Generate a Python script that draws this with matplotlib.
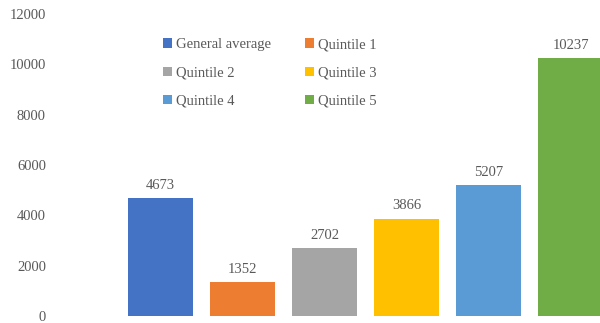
import matplotlib.pyplot as plt

labels = ["General average", "Quintile 1", "Quintile 2", "Quintile 3", "Quintile 4", "Quintile 5"]
values = [4673, 1352, 2702, 3866, 5207, 10237]
colors = ["#4472C4", "#ED7D31", "#A5A5A5", "#FFC000", "#5B9BD5", "#70AD47"]
yticks = [0, 2000, 4000, 6000, 8000, 10000, 12000]

plt.rcParams['font.family'] = ['Liberation Serif', 'DejaVu Serif']
text_color = "#595959"

fig = plt.figure(figsize=(6, 3.23), dpi=100)
W, H = 600, 323
ax = fig.add_axes([119.5 / W, 7 / H, 492 / W, 302 / H])

x = list(range(len(values)))
bars = ax.bar(x, values, width=0.79, color=colors)

for xi, v in zip(x, values):
    ax.annotate(str(v), (xi, v), xytext=(0, 4.5), textcoords="offset points",
                ha="center", va="bottom", fontsize=10.5, color=text_color)

ax.set_xlim(-0.5, len(values) - 0.5)
ax.set_ylim(0, 12000)
ax.set_yticks(yticks)
ax.set_xticks([])
ax.tick_params(axis="y", length=0, pad=53, labelsize=10.5, labelcolor=text_color)
for s in ax.spines.values():
    s.set_visible(False)

# legend fills column by column, so reorder to read row by row
order = [0, 2, 4, 1, 3, 5]
leg = ax.legend(handles=[bars[i] for i in order], labels=[labels[i] for i in order],
                ncol=2, loc="upper left",
                bbox_to_anchor=(150 / W, 1 - 25 / H), bbox_transform=fig.transFigure,
                frameon=False, fontsize=10.5, handlelength=0.6, handleheight=0.6,
                handletextpad=0.3, columnspacing=2.3, labelspacing=1.05,
                labelcolor=text_color)

fig.savefig("out.png", dpi=100)
